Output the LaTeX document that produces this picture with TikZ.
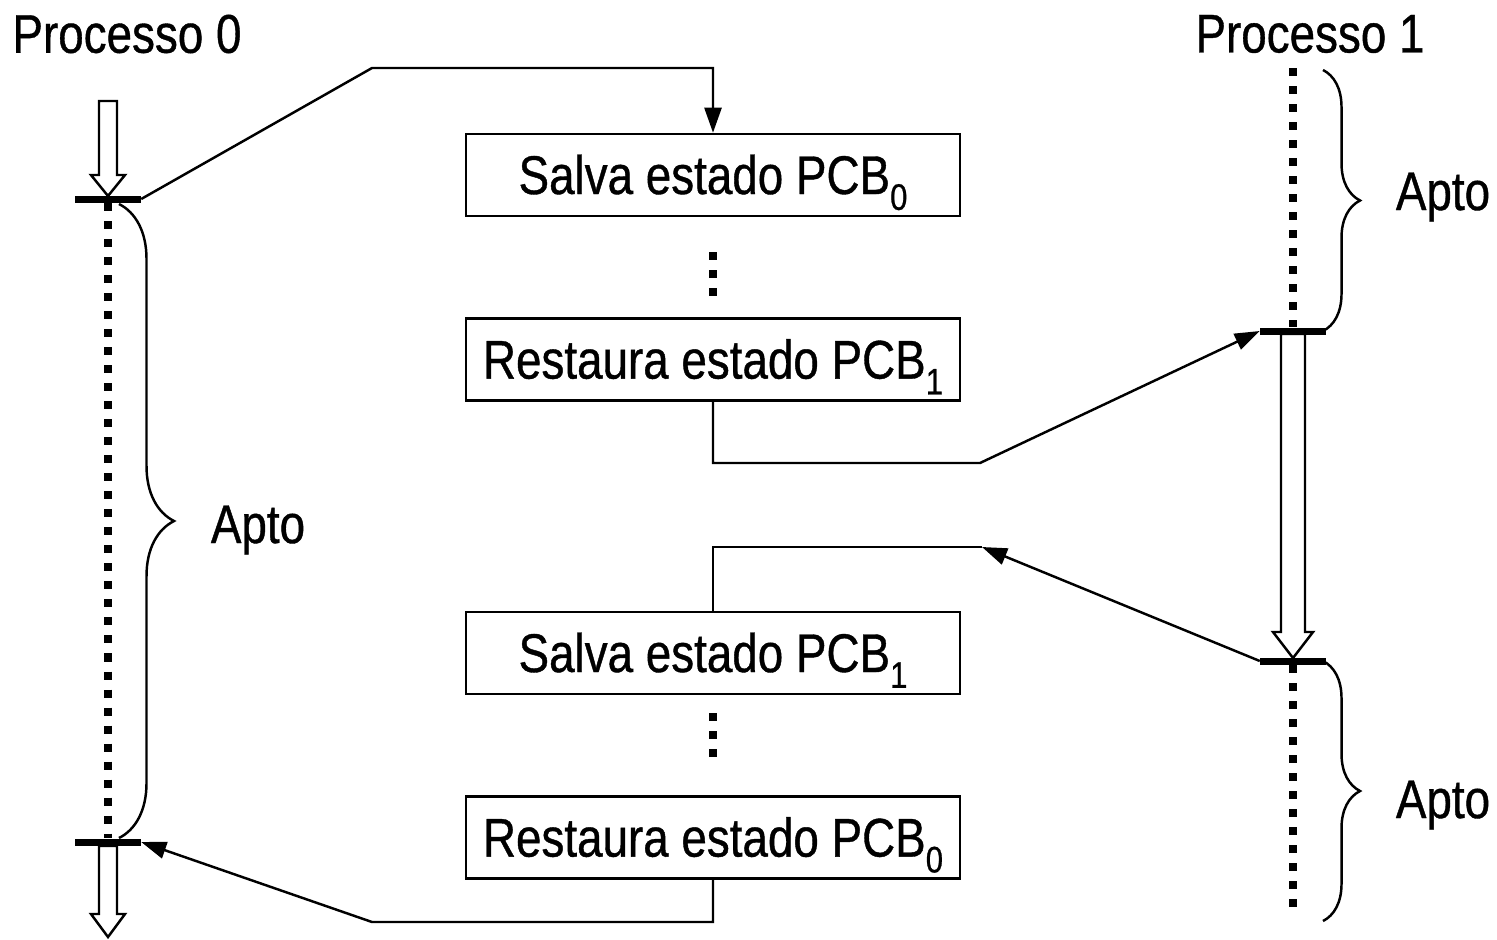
\documentclass[tikz,border=0pt]{standalone}
\usepackage{fontspec}
\setmainfont{Liberation Sans}[FakeStretch=0.84, FakeBold=0.7]
\usepackage{tikz}
\usetikzlibrary{arrows.meta, positioning, decorations.pathreplacing}

\newcommand{\sbs}[1]{\raisebox{-4.5pt}{\fontsize{10.5}{12}\selectfont #1}}

\begin{document}
\begin{tikzpicture}[x=0.01cm, y=-0.01cm, node distance=1cm,
    font=\fontsize{15.5}{18}\selectfont,
    statebox/.style={draw, rectangle, line width=0.7pt, minimum width=4.94cm, minimum height=0.82cm, inner sep=0pt, text height=0.38cm, text depth=0cm},
    tickbar/.style={fill, rectangle, minimum width=0.65cm, minimum height=0.07cm, inner sep=0pt},
    dotline/.style={line width=0.08cm, dash pattern=on 0.08cm off 0.1cm},
    conn/.style={line width=0.7pt, -{Triangle[length=0.25cm, width=0.17cm]}},
    plain/.style={line width=0.7pt},
    hollow/.style={draw, line width=0.7pt, fill=white},
    bracket/.style={line width=0.7pt, decorate, decoration={brace, amplitude=#1}}]

    \useasboundingbox (0,0) rectangle (1497,939);

    % Titles of the two processes
    \node (proc0) at (127,34) {Processo 0};
    \node (proc1) at (1310,34) {Processo 1};

    % Boxes for the context switch
    \node (save0) [statebox] at (713,175) {Salva estado PCB\sbs{0}};
    \node (rest1) [statebox, below=of save0] {Restaura estado PCB\sbs{1}};
    \node (save1) [statebox] at (713,653) {Salva estado PCB\sbs{1}};
    \node (rest0) [statebox, below=of save1] {Restaura estado PCB\sbs{0}};

    % Dots between the boxes
    \draw[dotline] (save0.south) +(0,35) -- +(0,80);
    \draw[dotline] (save1.south) +(0,18) -- +(0,63);

    % Hollow arrows (process running)
    \draw[hollow] (99,101) -- (117,101) -- (117,175) -- (125,175) -- (108,196) -- (91,175) -- (99,175) -- cycle;
    \draw[hollow] (99,846) -- (117,846) -- (117,914) -- (125,914) -- (108,937) -- (91,914) -- (99,914) -- cycle;
    \draw[hollow] (1281,334) -- (1305,334) -- (1305,632) -- (1313,632) -- (1293,658) -- (1273,632) -- (1281,632) -- cycle;

    % Ticks on the time lines
    \node (p0a) [tickbar] at (108,199) {};
    \node (p0b) [tickbar] at (108,842) {};
    \node (p1a) [tickbar] at (1293,331) {};
    \node (p1b) [tickbar] at (1293,661) {};
    \coordinate (p1top) at (1293,68);
    \coordinate (p1end) at (1293,912);

    % Dotted time lines (process waiting)
    \draw[dotline] (p0a.south) -- (p0b.north);
    \draw[dotline] (p1top) -- (p1a.north);
    \draw[dotline] (p1b.south) -- (p1end);

    % Braces and labels
    \draw[bracket=0.55cm] (119,204) -- (119,838);
    \draw[bracket=0.37cm] (1323,70) -- (1323,331);
    \draw[bracket=0.37cm] (1323,661) -- (1323,921);
    \node (apto0) [anchor=base] at (258,543) {Apto};
    \node (apto1a) [anchor=base] at (1443,210) {Apto};
    \node (apto1b) [anchor=base] at (1443,818) {Apto};

    % Connectors between the processes and the boxes
    \coordinate (bendA) at (372,68);
    \coordinate (bendB) at (980,463);
    \coordinate (bendC) at (982,547);
    \coordinate (bendD) at (372,922);
    \draw[conn] (p0a.east) -- (bendA) -- (save0.north |- bendA) -- (save0.north);
    \draw[conn] (rest1.south) -- (rest1.south |- bendB) -- (bendB) -- (p1a.west);
    \draw[conn] (p1b.west) -- (bendC);
    \draw[plain] (bendC) -- (save1.north |- bendC) -- (save1.north);
    \draw[conn] (rest0.south) -- (rest0.south |- bendD) -- (bendD) -- (p0b.east);

\end{tikzpicture}
\end{document}
